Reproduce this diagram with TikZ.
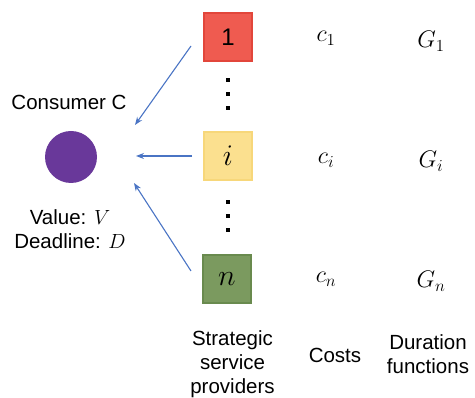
\RequirePackage{fix-cm}
\documentclass[tikz,border=0pt]{standalone}
\usepackage{fontspec}
\setmainfont{Liberation Sans}
\usepackage{tikz}
\usetikzlibrary{arrows.meta,positioning}
\definecolor{provred}{HTML}{EF5B50}
\definecolor{provredline}{HTML}{E2463B}
\definecolor{provyellow}{HTML}{FBE08F}
\definecolor{provyellowline}{HTML}{F7D77A}
\definecolor{provgreen}{HTML}{7B9A5F}
\definecolor{provgreenline}{HTML}{698A4E}
\definecolor{consumer}{HTML}{69389A}
\definecolor{linkblue}{HTML}{4A74C4}
\tikzset{
  provbox/.style={
    draw, line width=1.2pt, minimum width=48pt, minimum height=48pt,
    inner sep=0pt, font=\fontsize{24}{28}\selectfont},
  provbox_red/.style={provbox, fill=provred, draw=provredline},
  provbox_yellow/.style={provbox, fill=provyellow, draw=provyellowline},
  provbox_green/.style={provbox, fill=provgreen, draw=provgreenline},
  bigtext/.style={font=\fontsize{20.5}{24}\selectfont, align=center, inner sep=0pt},
  mathlabel/.style={font=\fontsize{24}{28}\selectfont, inner sep=0pt, anchor=base},
  linkarrow/.style={
    -{Stealth[length=8pt, width=6pt]}, line width=1.1pt, color=linkblue},
}

\begin{document}
\begin{tikzpicture}[x=1pt, y=-1pt]
  \useasboundingbox (0,0) rectangle (475,398);

  % providers
  \node[provbox_red]    (p1) at (228,37)  {1};
  \node[provbox_yellow, font=\fontsize{30}{32}\selectfont] (pi) at (228,156) {$i$};
  \node[provbox_green,  font=\fontsize{30}{32}\selectfont] (pn) at (227,279) {$n$};

  \foreach \y in {80,94,108,202,216,230}
    \fill (226.3,\y-1.7) rectangle ++(3.4,3.4);

  % consumer
  \node[circle, fill=consumer, minimum size=52pt, inner sep=0pt] (cons) at (71,157) {};
  \node[bigtext] (consname) at (69,102.5) {Consumer C};
  \node[bigtext] (consval) at (70,229) {Value: $V$\\Deadline: $D$};

  % arrow ends, a little off the boxes and the circle
  \coordinate (s1) at (191,46);
  \coordinate (si) at (192,156);
  \coordinate (sn) at (191,271);
  \coordinate (a1) at (135,125);
  \coordinate (ai) at (136,156);
  \coordinate (an) at (134,183);
  \draw[linkarrow] (s1) -- (a1);
  \draw[linkarrow] (si) -- (ai);
  \draw[linkarrow] (sn) -- (an);

  % costs and duration functions
  \node[mathlabel] (c1) at (326,42)  {$c_1$};
  \node[mathlabel] (ci) at (326,164) {$c_i$};
  \node[mathlabel] (cn) at (326,283) {$c_n$};
  \node[mathlabel] (g1) at (431,48)  {$G_1$};
  \node[mathlabel] (gi) at (431,168) {$G_i$};
  \node[mathlabel] (gn) at (431,288) {$G_n$};

  % column captions
  \node[bigtext] (capprov) at (232.5,364) {Strategic\\service\\providers};
  \node[bigtext] (capcost) at (335,355) {Costs};
  \node[bigtext] (capdur)  at (428,354) {Duration\\functions};
\end{tikzpicture}
\end{document}
